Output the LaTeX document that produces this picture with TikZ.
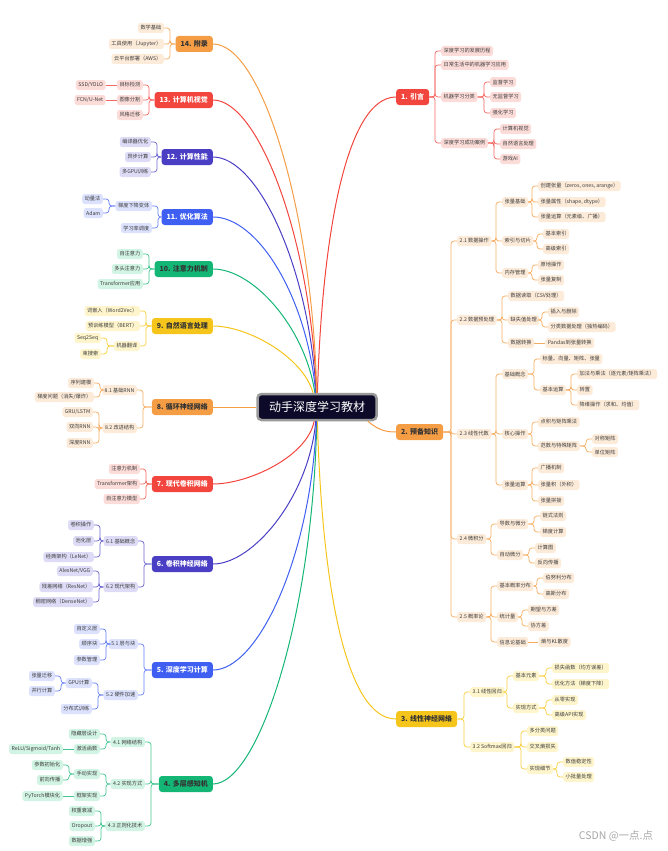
\documentclass[tikz,border=0pt]{standalone}
\usepackage{fontspec}
\setmainfont{Noto Sans CJK SC}
\usetikzlibrary{positioning}
\definecolor{rootnavy}{HTML}{0C0A28}
\definecolor{rootrim}{HTML}{9A9A9A}
\definecolor{inkgrey}{HTML}{3C3C3C}
\definecolor{cred}{HTML}{F2453D}
\definecolor{lred}{HTML}{FCDCD9}
\definecolor{corange}{HTML}{F59D45}
\definecolor{lorange}{HTML}{FDEBD9}
\definecolor{cyellow}{HTML}{F6C51C}
\definecolor{lyellow}{HTML}{FEF5CC}
\definecolor{cgreen}{HTML}{14B675}
\definecolor{lgreen}{HTML}{D2F4E4}
\definecolor{cblue}{HTML}{3F5FF2}
\definecolor{lblue}{HTML}{DCE2FD}
\definecolor{cindigo}{HTML}{4A3FC4}
\definecolor{lindigo}{HTML}{DEDBF6}
\tikzset{
  % Central title
  rootnode/.style={fill=rootnavy, draw=rootrim, line width=2.5pt, rounded corners=4pt, text=white, minimum width=119pt, minimum height=26pt, font=\fontsize{12}{14}\selectfont},
  % Chapter nodes
  chapternode/.style={rounded corners=3pt, inner xsep=5pt, inner ysep=0pt, minimum height=16pt, font=\bfseries\fontsize{7}{8}\selectfont},
  redchapter/.style={chapternode, fill=cred, text=white},
  orangechapter/.style={chapternode, fill=corange, text=black!80},
  yellowchapter/.style={chapternode, fill=cyellow, text=black!80},
  greenchapter/.style={chapternode, fill=cgreen, text=black!80},
  bluechapter/.style={chapternode, fill=cblue, text=white},
  indigochapter/.style={chapternode, fill=cindigo, text=white},
  % Topic nodes
  topicnode/.style={rounded corners=2.5pt, inner xsep=2.5pt, inner ysep=0pt, minimum height=10pt, text=inkgrey, font=\fontsize{5.2}{6}\selectfont},
  redtopic/.style={topicnode, fill=lred},
  orangetopic/.style={topicnode, fill=lorange},
  yellowtopic/.style={topicnode, fill=lyellow},
  greentopic/.style={topicnode, fill=lgreen},
  bluetopic/.style={topicnode, fill=lblue},
  indigotopic/.style={topicnode, fill=lindigo},
  watermark/.style={text=black!35, font=\fontsize{10.5}{12}\selectfont},
  % Pointers
  branchpointer/.style={line width=1pt},
  topicpointer/.style={line width=0.7pt, rounded corners=3pt},
  redpointer/.style={topicpointer, draw=cred!80},
  orangepointer/.style={topicpointer, draw=corange!85},
  yellowpointer/.style={topicpointer, draw=cyellow!85},
  greenpointer/.style={topicpointer, draw=cgreen!80},
  bluepointer/.style={topicpointer, draw=cblue!80},
  indigopointer/.style={topicpointer, draw=cindigo!80},
}
\begin{document}
\begin{tikzpicture}[x=1pt, y=-1pt]
\useasboundingbox (0,0) rectangle (667,851);

\node[rootnode] (root) at (317,407) {动手深度学习教材};

\node[redchapter, anchor=west] (intro) at (396,97) {1. 引言};
\node[orangechapter, anchor=west] (prelim) at (396,432) {2. 预备知识};
\node[yellowchapter, anchor=west] (linear) at (396,719) {3. 线性神经网络};
\node[greenchapter, anchor=east] (mlp) at (213,784) {4. 多层感知机};
\node[bluechapter, anchor=east] (compute) at (213,670) {5. 深度学习计算};
\node[indigochapter, anchor=east] (cnn) at (213,564) {6. 卷积神经网络};
\node[redchapter, anchor=east] (modern) at (213,484) {7. 现代卷积网络};
\node[orangechapter, anchor=east] (rnn) at (213,407) {8. 循环神经网络};
\node[yellowchapter, anchor=east] (nlp) at (213,326) {9. 自然语言处理};
\node[greenchapter, anchor=east] (attention) at (213,269) {10. 注意力机制};
\node[bluechapter, anchor=east] (optim) at (213,217) {11. 优化算法};
\node[indigochapter, anchor=east] (perf) at (213,157) {12. 计算性能};
\node[redchapter, anchor=east] (vision) at (213,100) {13. 计算机视觉};
\node[orangechapter, anchor=east] (appendix) at (213,44) {14. 附录};

\draw[branchpointer, draw=cred] (root) .. controls +(5,-170) and +(-50,0) .. (intro.west);
\draw[branchpointer, draw=corange] ([xshift=-10pt]root.south east) .. controls +(10,8) and +(-12,0) .. (prelim.west);
\draw[branchpointer, draw=cyellow] (root) .. controls +(5,180) and +(-50,0) .. (linear.west);
\draw[branchpointer, draw=cgreen] (mlp.east) .. controls +(45,0) and +(-4,210) .. (root);
\draw[branchpointer, draw=cblue] (compute.east) .. controls +(45,0) and +(-6,150) .. (root);
\draw[branchpointer, draw=cindigo] (cnn.east) .. controls +(40,0) and +(-8,90) .. (root);
\draw[branchpointer, draw=cred] (modern.east) .. controls +(35,0) and +(-10,50) .. (root);
\draw[branchpointer, draw=corange] (rnn.east) -- (root.west);
\draw[branchpointer, draw=cyellow] (nlp.east) .. controls +(35,0) and +(-14,-50) .. (root);
\draw[branchpointer, draw=cgreen] (attention.east) .. controls +(40,0) and +(-12,-80) .. (root);
\draw[branchpointer, draw=cblue] (optim.east) .. controls +(45,0) and +(-10,-110) .. (root);
\draw[branchpointer, draw=cindigo] (perf.east) .. controls +(45,0) and +(-8,-140) .. (root);
\draw[branchpointer, draw=cred] (vision.east) .. controls +(45,0) and +(-6,-170) .. (root);
\draw[branchpointer, draw=corange] (appendix.east) .. controls +(50,0) and +(-4,-190) .. (root);

\node[redtopic, anchor=west] (intro1) at (441,51) {深度学习的发展历程};
\node[redtopic, anchor=west] (intro2) at (441,65) {日常生活中的机器学习应用};
\node[redtopic, anchor=west] (intro3) at (441,97) {机器学习分类};
\node[redtopic, anchor=west] (intro31) at (490,82) {监督学习};
\node[redtopic, anchor=west] (intro32) at (490,97) {无监督学习};
\node[redtopic, anchor=west] (intro33) at (490,113) {强化学习};
\node[redtopic, anchor=west] (intro4) at (441,143) {深度学习成功案例};
\node[redtopic, anchor=west] (intro41) at (500,129) {计算机视觉};
\node[redtopic, anchor=west] (intro42) at (500,144) {自然语言处理};
\node[redtopic, anchor=west] (intro43) at (500,159) {游戏AI};
\draw[redpointer] (intro1.west) -- ++(-6,0) |- (intro.east);
\draw[redpointer] (intro2.west) -- ++(-6,0) |- (intro.east);
\draw[redpointer] (intro3.west) -- ++(-6,0) |- (intro.east);
\draw[redpointer] (intro4.west) -- ++(-6,0) |- (intro.east);
\draw[redpointer] (intro31.west) -- ++(-6,0) |- (intro3.east);
\draw[redpointer] (intro32.west) -- ++(-6,0) |- (intro3.east);
\draw[redpointer] (intro33.west) -- ++(-6,0) |- (intro3.east);
\draw[redpointer] (intro41.west) -- ++(-6,0) |- (intro4.east);
\draw[redpointer] (intro42.west) -- ++(-6,0) |- (intro4.east);
\draw[redpointer] (intro43.west) -- ++(-6,0) |- (intro4.east);

\node[orangetopic, anchor=west] (prelim1) at (457,241) {2.1 数据操作};
\node[orangetopic, anchor=west] (prelim11) at (502,202) {张量基础};
\node[orangetopic, anchor=west] (prelim111) at (538,186) {创建张量（zeros, ones, arange）};
\node[orangetopic, anchor=west] (prelim112) at (538,202) {张量属性（shape, dtype）};
\node[orangetopic, anchor=west] (prelim113) at (538,217) {张量运算（元素级、广播）};
\node[orangetopic, anchor=west] (prelim12) at (502,241) {索引与切片};
\node[orangetopic, anchor=west] (prelim121) at (543,234) {基本索引};
\node[orangetopic, anchor=west] (prelim122) at (543,249) {高级索引};
\node[orangetopic, anchor=west] (prelim13) at (502,273) {内存管理};
\node[orangetopic, anchor=west] (prelim131) at (538,265) {原地操作};
\node[orangetopic, anchor=west] (prelim132) at (538,280) {张量复制};
\node[orangetopic, anchor=west] (prelim2) at (457,320) {2.2 数据预处理};
\node[orangetopic, anchor=west] (prelim21) at (508,296) {数据读取（CSV处理）};
\node[orangetopic, anchor=west] (prelim22) at (508,320) {缺失值处理};
\node[orangetopic, anchor=west] (prelim221) at (548,312) {插入与删除};
\node[orangetopic, anchor=west] (prelim222) at (548,327) {分类数据处理（独热编码）};
\node[orangetopic, anchor=west] (prelim23) at (508,343) {数据转换};
\node[orangetopic, right=11pt of prelim23] (prelim231) {Pandas到张量转换};
\node[orangetopic, anchor=west] (prelim3) at (457,434) {2.3 线性代数};
\node[orangetopic, anchor=west] (prelim31) at (502,374) {基础概念};
\node[orangetopic, anchor=west] (prelim311) at (540,359) {标量、向量、矩阵、张量};
\node[orangetopic, anchor=west] (prelim312) at (540,390) {基本运算};
\node[orangetopic, anchor=west] (prelim3121) at (577,374) {加法与乘法（逐元素/矩阵乘法）};
\node[orangetopic, anchor=west] (prelim3122) at (577,390) {转置};
\node[orangetopic, anchor=west] (prelim3123) at (577,405) {降维操作（求和、均值）};
\node[orangetopic, anchor=west] (prelim32) at (502,434) {核心操作};
\node[orangetopic, anchor=west] (prelim321) at (538,422) {点积与矩阵乘法};
\node[orangetopic, anchor=west] (prelim322) at (538,446) {范数与特殊矩阵};
\node[orangetopic, anchor=west] (prelim3221) at (592,439) {对称矩阵};
\node[orangetopic, anchor=west] (prelim3222) at (592,452) {单位矩阵};
\node[orangetopic, anchor=west] (prelim33) at (502,485) {张量运算};
\node[orangetopic, anchor=west] (prelim331) at (538,468) {广播机制};
\node[orangetopic, anchor=west] (prelim332) at (538,485) {张量积（外积）};
\node[orangetopic, anchor=west] (prelim333) at (538,501) {张量拼接};
\node[orangetopic, anchor=west] (prelim4) at (457,539) {2.4 微积分};
\node[orangetopic, anchor=west] (prelim41) at (497,524) {导数与微分};
\node[orangetopic, anchor=west] (prelim411) at (540,516) {链式法则};
\node[orangetopic, anchor=west] (prelim412) at (540,532) {梯度计算};
\node[orangetopic, anchor=west] (prelim42) at (497,555) {自动微分};
\node[orangetopic, anchor=west] (prelim421) at (535,548) {计算图};
\node[orangetopic, anchor=west] (prelim422) at (535,563) {反向传播};
\node[orangetopic, anchor=west] (prelim5) at (457,617) {2.5 概率论};
\node[orangetopic, anchor=west] (prelim51) at (497,586) {基本概率分布};
\node[orangetopic, anchor=west] (prelim511) at (543,578) {伯努利分布};
\node[orangetopic, anchor=west] (prelim512) at (543,594) {高斯分布};
\node[orangetopic, anchor=west] (prelim52) at (497,617) {统计量};
\node[orangetopic, anchor=west] (prelim521) at (528,610) {期望与方差};
\node[orangetopic, anchor=west] (prelim522) at (528,626) {协方差};
\node[orangetopic, anchor=west] (prelim53) at (497,642) {信息论基础};
\node[orangetopic, right=10pt of prelim53] (prelim531) {熵与KL散度};
\draw[orangepointer] (prelim1.west) -- ++(-6,0) |- (prelim.east);
\draw[orangepointer] (prelim2.west) -- ++(-6,0) |- (prelim.east);
\draw[orangepointer] (prelim3.west) -- ++(-6,0) |- (prelim.east);
\draw[orangepointer] (prelim4.west) -- ++(-6,0) |- (prelim.east);
\draw[orangepointer] (prelim5.west) -- ++(-6,0) |- (prelim.east);
\draw[orangepointer] (prelim11.west) -- ++(-6,0) |- (prelim1.east);
\draw[orangepointer] (prelim12.west) -- ++(-6,0) |- (prelim1.east);
\draw[orangepointer] (prelim13.west) -- ++(-6,0) |- (prelim1.east);
\draw[orangepointer] (prelim111.west) -- ++(-6,0) |- (prelim11.east);
\draw[orangepointer] (prelim112.west) -- ++(-6,0) |- (prelim11.east);
\draw[orangepointer] (prelim113.west) -- ++(-6,0) |- (prelim11.east);
\draw[orangepointer] (prelim121.west) -- ++(-6,0) |- (prelim12.east);
\draw[orangepointer] (prelim122.west) -- ++(-6,0) |- (prelim12.east);
\draw[orangepointer] (prelim131.west) -- ++(-6,0) |- (prelim13.east);
\draw[orangepointer] (prelim132.west) -- ++(-6,0) |- (prelim13.east);
\draw[orangepointer] (prelim21.west) -- ++(-6,0) |- (prelim2.east);
\draw[orangepointer] (prelim22.west) -- ++(-6,0) |- (prelim2.east);
\draw[orangepointer] (prelim23.west) -- ++(-6,0) |- (prelim2.east);
\draw[orangepointer] (prelim221.west) -- ++(-6,0) |- (prelim22.east);
\draw[orangepointer] (prelim222.west) -- ++(-6,0) |- (prelim22.east);
\draw[orangepointer] (prelim23) -- (prelim231);
\draw[orangepointer] (prelim31.west) -- ++(-6,0) |- (prelim3.east);
\draw[orangepointer] (prelim32.west) -- ++(-6,0) |- (prelim3.east);
\draw[orangepointer] (prelim33.west) -- ++(-6,0) |- (prelim3.east);
\draw[orangepointer] (prelim311.west) -- ++(-6,0) |- (prelim31.east);
\draw[orangepointer] (prelim312.west) -- ++(-6,0) |- (prelim31.east);
\draw[orangepointer] (prelim3121.west) -- ++(-6,0) |- (prelim312.east);
\draw[orangepointer] (prelim3122.west) -- ++(-6,0) |- (prelim312.east);
\draw[orangepointer] (prelim3123.west) -- ++(-6,0) |- (prelim312.east);
\draw[orangepointer] (prelim321.west) -- ++(-6,0) |- (prelim32.east);
\draw[orangepointer] (prelim322.west) -- ++(-6,0) |- (prelim32.east);
\draw[orangepointer] (prelim3221.west) -- ++(-6,0) |- (prelim322.east);
\draw[orangepointer] (prelim3222.west) -- ++(-6,0) |- (prelim322.east);
\draw[orangepointer] (prelim331.west) -- ++(-6,0) |- (prelim33.east);
\draw[orangepointer] (prelim332.west) -- ++(-6,0) |- (prelim33.east);
\draw[orangepointer] (prelim333.west) -- ++(-6,0) |- (prelim33.east);
\draw[orangepointer] (prelim41.west) -- ++(-6,0) |- (prelim4.east);
\draw[orangepointer] (prelim42.west) -- ++(-6,0) |- (prelim4.east);
\draw[orangepointer] (prelim411.west) -- ++(-6,0) |- (prelim41.east);
\draw[orangepointer] (prelim412.west) -- ++(-6,0) |- (prelim41.east);
\draw[orangepointer] (prelim421.west) -- ++(-6,0) |- (prelim42.east);
\draw[orangepointer] (prelim422.west) -- ++(-6,0) |- (prelim42.east);
\draw[orangepointer] (prelim51.west) -- ++(-6,0) |- (prelim5.east);
\draw[orangepointer] (prelim52.west) -- ++(-6,0) |- (prelim5.east);
\draw[orangepointer] (prelim53.west) -- ++(-6,0) |- (prelim5.east);
\draw[orangepointer] (prelim511.west) -- ++(-6,0) |- (prelim51.east);
\draw[orangepointer] (prelim512.west) -- ++(-6,0) |- (prelim51.east);
\draw[orangepointer] (prelim521.west) -- ++(-6,0) |- (prelim52.east);
\draw[orangepointer] (prelim522.west) -- ++(-6,0) |- (prelim52.east);
\draw[orangepointer] (prelim53) -- (prelim531);

\node[yellowtopic, anchor=west] (linear1) at (470,692) {3.1 线性回归};
\node[yellowtopic, anchor=west] (linear11) at (513,676) {基本元素};
\node[yellowtopic, anchor=west] (linear111) at (552,668) {损失函数（均方误差）};
\node[yellowtopic, anchor=west] (linear112) at (552,684) {优化方法（梯度下降）};
\node[yellowtopic, anchor=west] (linear12) at (513,708) {实现方式};
\node[yellowtopic, anchor=west] (linear121) at (552,700) {从零实现};
\node[yellowtopic, anchor=west] (linear122) at (552,715) {高级API实现};
\node[yellowtopic, anchor=west] (linear2) at (470,747) {3.2 Softmax回归};
\node[yellowtopic, anchor=west] (linear21) at (527,731) {多分类问题};
\node[yellowtopic, anchor=west] (linear22) at (527,747) {交叉熵损失};
\node[yellowtopic, anchor=west] (linear23) at (527,769) {实现细节};
\node[yellowtopic, anchor=west] (linear231) at (563,762) {数值稳定性};
\node[yellowtopic, anchor=west] (linear232) at (563,777) {小批量处理};
\draw[yellowpointer] (linear1.west) -- ++(-6,0) |- (linear.east);
\draw[yellowpointer] (linear2.west) -- ++(-6,0) |- (linear.east);
\draw[yellowpointer] (linear11.west) -- ++(-6,0) |- (linear1.east);
\draw[yellowpointer] (linear12.west) -- ++(-6,0) |- (linear1.east);
\draw[yellowpointer] (linear111.west) -- ++(-6,0) |- (linear11.east);
\draw[yellowpointer] (linear112.west) -- ++(-6,0) |- (linear11.east);
\draw[yellowpointer] (linear121.west) -- ++(-6,0) |- (linear12.east);
\draw[yellowpointer] (linear122.west) -- ++(-6,0) |- (linear12.east);
\draw[yellowpointer] (linear21.west) -- ++(-6,0) |- (linear2.east);
\draw[yellowpointer] (linear22.west) -- ++(-6,0) |- (linear2.east);
\draw[yellowpointer] (linear23.west) -- ++(-6,0) |- (linear2.east);
\draw[yellowpointer] (linear231.west) -- ++(-6,0) |- (linear23.east);
\draw[yellowpointer] (linear232.west) -- ++(-6,0) |- (linear23.east);

\node[greentopic, anchor=east] (mlp1) at (145,742) {4.1 网络结构};
\node[greentopic, anchor=east] (mlp11) at (100,734) {隐藏层设计};
\node[greentopic, anchor=east] (mlp12) at (100,749) {激活函数};
\node[greentopic, left=11pt of mlp12] (mlp121) {ReLU/Sigmoid/Tanh};
\node[greentopic, anchor=east] (mlp2) at (145,784) {4.2 实现方式};
\node[greentopic, anchor=east] (mlp21) at (100,774) {手动实现};
\node[greentopic, anchor=east] (mlp211) at (63,765) {参数初始化};
\node[greentopic, anchor=east] (mlp212) at (63,780) {前向传播};
\node[greentopic, anchor=east] (mlp22) at (100,796) {框架实现};
\node[greentopic, left=11pt of mlp22] (mlp221) {PyTorch模块化};
\node[greentopic, anchor=east] (mlp3) at (145,826) {4.3 正则化技术};
\node[greentopic, anchor=east] (mlp31) at (95,811) {权重衰减};
\node[greentopic, anchor=east] (mlp32) at (95,826) {Dropout};
\node[greentopic, anchor=east] (mlp33) at (95,841) {数据增强};
\draw[greenpointer] (mlp1.east) -- ++(6,0) |- (mlp.west);
\draw[greenpointer] (mlp2.east) -- ++(6,0) |- (mlp.west);
\draw[greenpointer] (mlp3.east) -- ++(6,0) |- (mlp.west);
\draw[greenpointer] (mlp11.east) -- ++(6,0) |- (mlp1.west);
\draw[greenpointer] (mlp12.east) -- ++(6,0) |- (mlp1.west);
\draw[greenpointer] (mlp121) -- (mlp12);
\draw[greenpointer] (mlp21.east) -- ++(6,0) |- (mlp2.west);
\draw[greenpointer] (mlp22.east) -- ++(6,0) |- (mlp2.west);
\draw[greenpointer] (mlp211.east) -- ++(6,0) |- (mlp21.west);
\draw[greenpointer] (mlp212.east) -- ++(6,0) |- (mlp21.west);
\draw[greenpointer] (mlp221) -- (mlp22);
\draw[greenpointer] (mlp31.east) -- ++(6,0) |- (mlp3.west);
\draw[greenpointer] (mlp32.east) -- ++(6,0) |- (mlp3.west);
\draw[greenpointer] (mlp33.east) -- ++(6,0) |- (mlp3.west);

\node[bluetopic, anchor=east] (compute1) at (138,644) {5.1 层与块};
\node[bluetopic, anchor=east] (compute11) at (100,629) {自定义层};
\node[bluetopic, anchor=east] (compute12) at (100,644) {顺序块};
\node[bluetopic, anchor=east] (compute13) at (100,660) {参数管理};
\node[bluetopic, anchor=east] (compute2) at (138,695) {5.2 硬件加速};
\node[bluetopic, anchor=east] (compute21) at (92,683) {GPU计算};
\node[bluetopic, anchor=east] (compute211) at (55,676) {张量迁移};
\node[bluetopic, anchor=east] (compute212) at (55,691) {并行计算};
\node[bluetopic, anchor=east] (compute22) at (92,709) {分布式训练};
\draw[bluepointer] (compute1.east) -- ++(6,0) |- (compute.west);
\draw[bluepointer] (compute2.east) -- ++(6,0) |- (compute.west);
\draw[bluepointer] (compute11.east) -- ++(6,0) |- (compute1.west);
\draw[bluepointer] (compute12.east) -- ++(6,0) |- (compute1.west);
\draw[bluepointer] (compute13.east) -- ++(6,0) |- (compute1.west);
\draw[bluepointer] (compute21.east) -- ++(6,0) |- (compute2.west);
\draw[bluepointer] (compute22.east) -- ++(6,0) |- (compute2.west);
\draw[bluepointer] (compute211.east) -- ++(6,0) |- (compute21.west);
\draw[bluepointer] (compute212.east) -- ++(6,0) |- (compute21.west);

\node[indigotopic, anchor=east] (cnn1) at (138,541) {6.1 基础概念};
\node[indigotopic, anchor=east] (cnn11) at (94,525) {卷积操作};
\node[indigotopic, anchor=east] (cnn12) at (94,541) {池化层};
\node[indigotopic, anchor=east] (cnn13) at (94,557) {经典架构（LeNet）};
\node[indigotopic, anchor=east] (cnn2) at (138,587) {6.2 现代架构};
\node[indigotopic, anchor=east] (cnn21) at (93,571) {AlexNet/VGG};
\node[indigotopic, anchor=east] (cnn22) at (93,587) {残差网络（ResNet）};
\node[indigotopic, anchor=east] (cnn23) at (93,602) {稠密网络（DenseNet）};
\draw[indigopointer] (cnn1.east) -- ++(6,0) |- (cnn.west);
\draw[indigopointer] (cnn2.east) -- ++(6,0) |- (cnn.west);
\draw[indigopointer] (cnn11.east) -- ++(6,0) |- (cnn1.west);
\draw[indigopointer] (cnn12.east) -- ++(6,0) |- (cnn1.west);
\draw[indigopointer] (cnn13.east) -- ++(6,0) |- (cnn1.west);
\draw[indigopointer] (cnn21.east) -- ++(6,0) |- (cnn2.west);
\draw[indigopointer] (cnn22.east) -- ++(6,0) |- (cnn2.west);
\draw[indigopointer] (cnn23.east) -- ++(6,0) |- (cnn2.west);

\node[redtopic, anchor=east] (modern1) at (140,469) {注意力机制};
\node[redtopic, anchor=east] (modern2) at (140,484) {Transformer架构};
\node[redtopic, anchor=east] (modern3) at (140,499) {自注意力模型};
\draw[redpointer] (modern1.east) -- ++(6,0) |- (modern.west);
\draw[redpointer] (modern2.east) -- ++(6,0) |- (modern.west);
\draw[redpointer] (modern3.east) -- ++(6,0) |- (modern.west);

\node[orangetopic, anchor=east] (rnn1) at (137,390) {8.1 基础RNN};
\node[orangetopic, anchor=east] (rnn11) at (94,383) {序列建模};
\node[orangetopic, anchor=east] (rnn12) at (94,397) {梯度问题（消失/爆炸）};
\node[orangetopic, anchor=east] (rnn2) at (137,428) {8.2 改进结构};
\node[orangetopic, anchor=east] (rnn21) at (93,412) {GRU/LSTM};
\node[orangetopic, anchor=east] (rnn22) at (93,427) {双向RNN};
\node[orangetopic, anchor=east] (rnn23) at (93,443) {深度RNN};
\draw[orangepointer] (rnn1.east) -- ++(6,0) |- (rnn.west);
\draw[orangepointer] (rnn2.east) -- ++(6,0) |- (rnn.west);
\draw[orangepointer] (rnn11.east) -- ++(6,0) |- (rnn1.west);
\draw[orangepointer] (rnn12.east) -- ++(6,0) |- (rnn1.west);
\draw[orangepointer] (rnn21.east) -- ++(6,0) |- (rnn2.west);
\draw[orangepointer] (rnn22.east) -- ++(6,0) |- (rnn2.west);
\draw[orangepointer] (rnn23.east) -- ++(6,0) |- (rnn2.west);

\node[yellowtopic, anchor=east] (nlp1) at (140,311) {词嵌入（Word2Vec）};
\node[yellowtopic, anchor=east] (nlp2) at (140,326) {预训练模型（BERT）};
\node[yellowtopic, anchor=east] (nlp3) at (140,346) {机器翻译};
\node[yellowtopic, anchor=east] (nlp31) at (101,338) {Seq2Seq};
\node[yellowtopic, anchor=east] (nlp32) at (101,354) {束搜索};
\draw[yellowpointer] (nlp1.east) -- ++(6,0) |- (nlp.west);
\draw[yellowpointer] (nlp2.east) -- ++(6,0) |- (nlp.west);
\draw[yellowpointer] (nlp3.east) -- ++(6,0) |- (nlp.west);
\draw[yellowpointer] (nlp31.east) -- ++(6,0) |- (nlp3.west);
\draw[yellowpointer] (nlp32.east) -- ++(6,0) |- (nlp3.west);

\node[greentopic, anchor=east] (attention1) at (143,254) {自注意力};
\node[greentopic, anchor=east] (attention2) at (143,269) {多头注意力};
\node[greentopic, anchor=east] (attention3) at (143,284) {Transformer应用};
\draw[greenpointer] (attention1.east) -- ++(6,0) |- (attention.west);
\draw[greenpointer] (attention2.east) -- ++(6,0) |- (attention.west);
\draw[greenpointer] (attention3.east) -- ++(6,0) |- (attention.west);

\node[bluetopic, anchor=east] (optim1) at (152,206) {梯度下降变体};
\node[bluetopic, anchor=east] (optim11) at (103,199) {动量法};
\node[bluetopic, anchor=east] (optim12) at (103,213) {Adam};
\node[bluetopic, anchor=east] (optim2) at (152,228) {学习率调度};
\draw[bluepointer] (optim1.east) -- ++(6,0) |- (optim.west);
\draw[bluepointer] (optim2.east) -- ++(6,0) |- (optim.west);
\draw[bluepointer] (optim11.east) -- ++(6,0) |- (optim1.west);
\draw[bluepointer] (optim12.east) -- ++(6,0) |- (optim1.west);

\node[indigotopic, anchor=east] (perf1) at (151,142) {编译器优化};
\node[indigotopic, anchor=east] (perf2) at (151,157) {异步计算};
\node[indigotopic, anchor=east] (perf3) at (151,172) {多GPU训练};
\draw[indigopointer] (perf1.east) -- ++(6,0) |- (perf.west);
\draw[indigopointer] (perf2.east) -- ++(6,0) |- (perf.west);
\draw[indigopointer] (perf3.east) -- ++(6,0) |- (perf.west);

\node[redtopic, anchor=east] (vision1) at (143,85) {目标检测};
\node[redtopic, left=11pt of vision1] (vision11) {SSD/YOLO};
\node[redtopic, anchor=east] (vision2) at (143,100) {图像分割};
\node[redtopic, left=11pt of vision2] (vision21) {FCN/U-Net};
\node[redtopic, anchor=east] (vision3) at (143,115) {风格迁移};
\draw[redpointer] (vision1.east) -- ++(6,0) |- (vision.west);
\draw[redpointer] (vision2.east) -- ++(6,0) |- (vision.west);
\draw[redpointer] (vision3.east) -- ++(6,0) |- (vision.west);
\draw[redpointer] (vision11) -- (vision1);
\draw[redpointer] (vision21) -- (vision2);

\node[orangetopic, anchor=east] (appendix1) at (164,28) {数学基础};
\node[orangetopic, anchor=east] (appendix2) at (164,44) {工具使用（Jupyter）};
\node[orangetopic, anchor=east] (appendix3) at (164,59) {云平台部署（AWS）};
\draw[orangepointer] (appendix1.east) -- ++(6,0) |- (appendix.west);
\draw[orangepointer] (appendix2.east) -- ++(6,0) |- (appendix.west);
\draw[orangepointer] (appendix3.east) -- ++(6,0) |- (appendix.west);

\node[watermark] (mark) at (616,836) {CSDN @一点.点};

\end{tikzpicture}
\end{document}
